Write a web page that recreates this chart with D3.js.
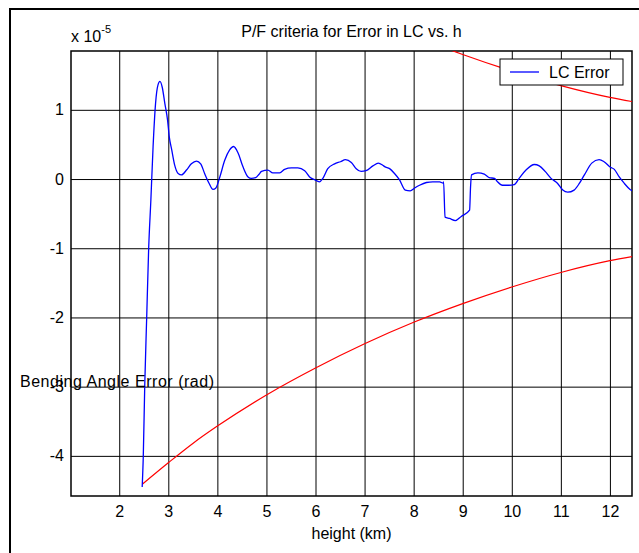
<!DOCTYPE html>
<html>
<head>
<meta charset="utf-8">
<script src="https://cdn.jsdelivr.net/npm/d3@7"></script>
<style>
  body { margin: 0; background: #fff; }
  text { font-family: Arial, "Liberation Sans", sans-serif; fill: #000; }
</style>
</head>
<body>
<div id="chart"></div>
<script>
// LC error trace (height in km, error in units of 1e-5 rad)
const lcHeight = [2.468, 2.49, 2.52, 2.56, 2.60, 2.645, 2.69, 2.74, 2.79, 2.83, 2.875, 2.93, 2.985, 3.02, 3.07, 3.13, 3.20, 3.27, 3.37, 3.47,
  3.575, 3.66, 3.74, 3.83, 3.91, 3.97, 4.05, 4.15, 4.25, 4.33, 4.42, 4.52, 4.625, 4.69, 4.78, 4.85, 4.90, 5.03, 5.13, 5.27,
  5.37, 5.51, 5.64, 5.78, 5.88, 5.98, 6.08, 6.15, 6.25, 6.39, 6.51, 6.61, 6.73, 6.83, 6.93, 7.03, 7.17, 7.28, 7.37, 7.41,
  7.51, 7.61, 7.71, 7.83, 7.93, 8.02, 8.12, 8.26, 8.39, 8.53, 8.60, 8.61, 8.64, 8.73, 8.85, 8.97, 9.14, 9.16, 9.18, 9.31,
  9.44, 9.54, 9.65, 9.71, 9.81, 9.94, 10.05, 10.15, 10.29, 10.46, 10.56, 10.68, 10.80, 10.93, 11.04, 11.14, 11.27, 11.38, 11.48, 11.63,
  11.78, 11.88, 12.01, 12.09, 12.19, 12.29, 12.41, 12.45];
const lcError = [-4.45, -4.01, -2.98, -1.99, -1.00, -0.30, 0.47, 1.09, 1.36, 1.41, 1.33, 1.09, 0.85, 0.61, 0.42, 0.20, 0.08, 0.06, 0.13, 0.22,
  0.26, 0.22, 0.08, -0.06, -0.15, -0.13, 0.03, 0.27, 0.42, 0.47, 0.38, 0.18, 0.03, 0.01, 0.02, 0.07, 0.11, 0.13, 0.09, 0.09,
  0.14, 0.16, 0.16, 0.12, 0.03, -0.01, -0.04, 0.01, 0.15, 0.22, 0.25, 0.28, 0.24, 0.15, 0.11, 0.12, 0.19, 0.23, 0.20, 0.18,
  0.15, 0.08, -0.01, -0.16, -0.17, -0.13, -0.09, -0.05, -0.04, -0.04, -0.06, -0.04, -0.55, -0.57, -0.60, -0.54, -0.45, -0.11, 0.06, 0.09,
  0.07, 0.02, 0.01, -0.04, -0.09, -0.09, -0.08, 0.01, 0.13, 0.21, 0.19, 0.11, 0.01, -0.06, -0.16, -0.19, -0.16, -0.06, 0.06, 0.23,
  0.28, 0.25, 0.17, 0.14, 0.03, -0.06, -0.15, -0.17];

// pass/fail criterion (drawn as +/- bound)
const critHeight = [2.47, 3.0, 3.5, 4.0, 5.0, 6.0, 7.0, 8.0, 9.0, 10.0, 11.0, 12.0, 12.45];
const critValue = [-4.41, -4.10, -3.82, -3.57, -3.12, -2.73, -2.38, -2.07, -1.80, -1.56, -1.35, -1.18, -1.12];

const xTicks = [2, 3, 4, 5, 6, 7, 8, 9, 10, 11, 12];
const yTicks = [-4, -3, -2, -1, 0, 1];

const titleText = "P/F criteria for Error in LC vs. h";
const xLabel = "height (km)";
const yLabel = "Bending Angle Error  (rad)";
const legendLabel = "LC Error";

const W = 639, H = 553;
const margin = {top: 51, right: 7, bottom: 57, left: 71};
const pw = W - margin.left - margin.right,
  ph = H - margin.top - margin.bottom;

const x = d3.scaleLinear().domain([1.017, 12.45]).range([0, pw]);
const y = d3.scaleLinear().domain([-4.58, 1.85]).range([ph, 0]);

const svg = d3.select("#chart").append("svg")
  .attr("width", W)
  .attr("height", H);

svg.append("rect").attr("width", W).attr("height", H).attr("fill", "#fff");

// figure frame
svg.append("rect")
  .attr("x", 10).attr("y", 9)
  .attr("width", W + 20).attr("height", H + 20)
  .attr("fill", "none")
  .attr("stroke", "#000")
  .attr("stroke-width", 2);

const g = svg.append("g")
  .attr("transform", `translate(${margin.left},${margin.top})`);

g.append("defs").append("clipPath").attr("id", "plotClip")
  .append("rect").attr("width", pw).attr("height", ph);

//grid
g.append("g")
  .attr("transform", `translate(0,${ph})`)
  .call(d3.axisBottom(x).tickValues(xTicks).tickSize(-ph).tickFormat(""))
  .call(a => a.select(".domain").remove())
  .selectAll("line").attr("stroke", "#000").attr("stroke-width", 1);

g.append("g")
  .call(d3.axisLeft(y).tickValues(yTicks).tickSize(-pw).tickFormat(""))
  .call(a => a.select(".domain").remove())
  .selectAll("line").attr("stroke", "#000").attr("stroke-width", 1);

// tick labels (plain hyphen for negatives, like the original)
const xAxis = g.append("g")
  .attr("transform", `translate(0,${ph})`)
  .call(d3.axisBottom(x).tickValues(xTicks).tickSize(0).tickPadding(10).tickFormat(d => String(d)));
xAxis.select(".domain").remove();
xAxis.selectAll("text").style("font-size", "16px").style("font-family", "Arial, 'Liberation Sans', sans-serif");

const yAxis = g.append("g")
  .call(d3.axisLeft(y).tickValues(yTicks).tickSize(0).tickPadding(7).tickFormat(d => String(d)));
yAxis.select(".domain").remove();
yAxis.selectAll("text").style("font-size", "16px").style("font-family", "Arial, 'Liberation Sans', sans-serif");

// box
g.append("rect")
  .attr("width", pw).attr("height", ph)
  .attr("fill", "none")
  .attr("stroke", "#000")
  .attr("stroke-width", 1.5);

const plot = g.append("g").attr("clip-path", "url(#plotClip)");

const critLine = d3.line()
  .x((d, i) => x(critHeight[i]))
  .y(d => y(d))
  .curve(d3.curveMonotoneX);

plot.append("path")
  .attr("d", critLine(critValue))
  .attr("fill", "none").attr("stroke", "#ff0000").attr("stroke-width", 1.2);
plot.append("path")
  .attr("d", critLine(critValue.map(v => -v)))
  .attr("fill", "none").attr("stroke", "#ff0000").attr("stroke-width", 1.2);

const lcLine = d3.line()
  .x((d, i) => x(lcHeight[i]))
  .y(d => y(d))
  .curve(d3.curveMonotoneX);

plot.append("path")
  .attr("d", lcLine(lcError))
  .attr("fill", "none").attr("stroke", "#0000ff").attr("stroke-width", 1.3);

// title
svg.append("text")
  .attr("x", margin.left + pw / 2).attr("y", 37)
  .attr("text-anchor", "middle")
  .style("font-size", "16px")
  .text(titleText);

// exponent
const expo = svg.append("text").attr("x", 71).attr("y", 42).style("font-size", "16px");
expo.append("tspan").text("x 10");
expo.append("tspan").attr("dy", -9).style("font-size", "11px").text("-5");

svg.append("text")
  .attr("x", margin.left + pw / 2).attr("y", 539)
  .attr("text-anchor", "middle")
  .style("font-size", "16px")
  .text(xLabel);

svg.append("text")
  .attr("x", 20).attr("y", 387)
  .attr("textLength", 194)
  .style("font-size", "16px")
  .text(yLabel);

// legend
const lg = svg.append("g").attr("transform", "translate(500,59)");
lg.append("rect").attr("width", 123).attr("height", 26)
  .attr("fill", "#fff").attr("stroke", "#000").attr("stroke-width", 1);
lg.append("line").attr("x1", 10).attr("x2", 39).attr("y1", 13).attr("y2", 13)
  .attr("stroke", "#0000ff").attr("stroke-width", 1.3);
lg.append("text").attr("x", 49).attr("y", 19).style("font-size", "16px").text(legendLabel);
</script>
</body>
</html>
